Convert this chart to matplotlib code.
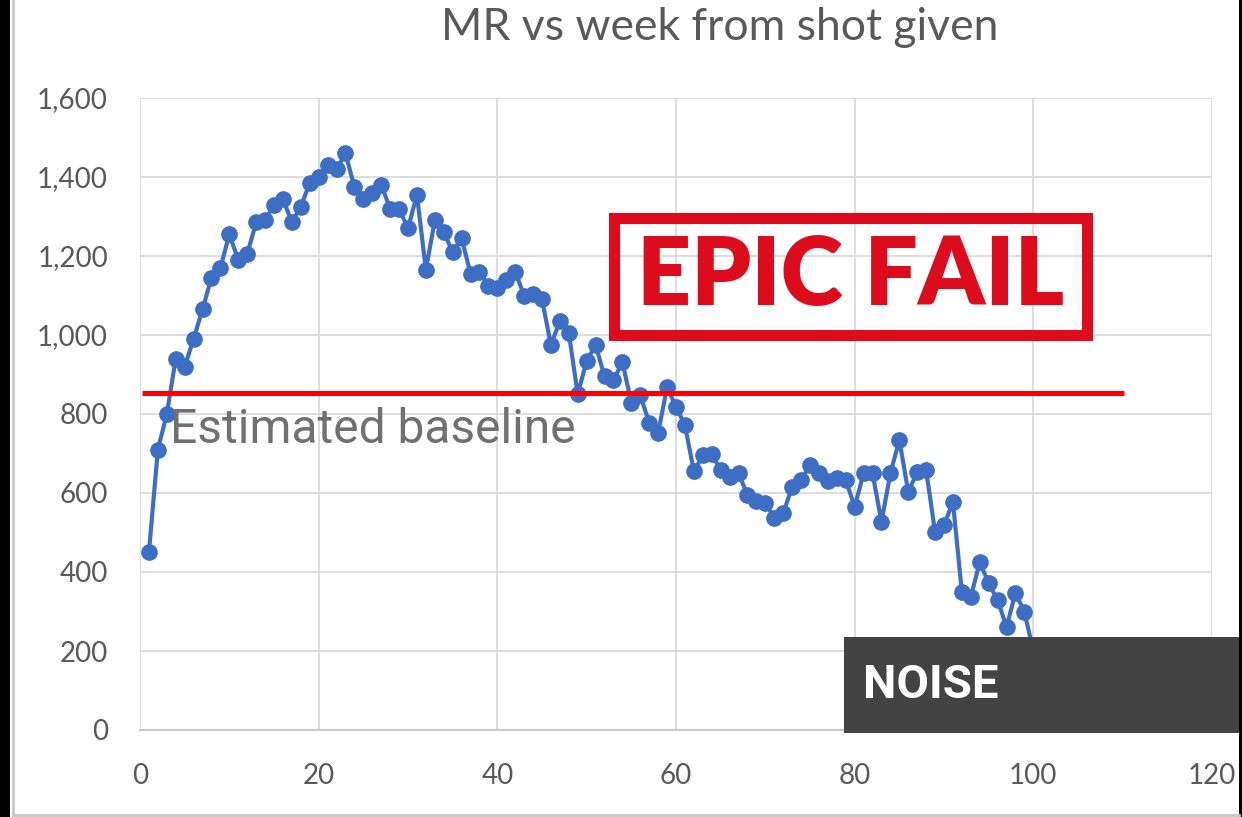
import matplotlib
matplotlib.use("Agg")
import matplotlib.pyplot as plt
from matplotlib.patches import Rectangle
from matplotlib.lines import Line2D
from matplotlib.ticker import FuncFormatter

# week since shot, MR value
weeks = list(range(1, 101))
mr = [450, 710, 800, 940, 920, 990, 1065, 1145, 1170, 1255,
      1190, 1205, 1285, 1290, 1330, 1345, 1285, 1325, 1385, 1400,
      1430, 1420, 1460, 1375, 1345, 1360, 1380, 1320, 1320, 1270,
      1355, 1165, 1290, 1260, 1210, 1245, 1155, 1160, 1125, 1120,
      1140, 1160, 1100, 1105, 1090, 975, 1035, 1005, 850, 935,
      975, 895, 885, 932, 828, 848, 777, 752, 868, 818,
      772, 655, 695, 698, 658, 640, 650, 595, 580, 575,
      537, 549, 615, 633, 670, 650, 630, 638, 633, 565,
      650, 650, 527, 650, 734, 603, 653, 658, 501, 519,
      577, 349, 337, 425, 372, 329, 261, 347, 299, 200]

baseline = 853
baseline_span = [0.2, 110.2]
x_ticks = [0, 20, 40, 60, 80, 100, 120]
y_ticks = [0, 200, 400, 600, 800, 1000, 1200, 1400, 1600]

W, H = 1242, 817


def fx(px):
    return px / W


def fy(py):
    return 1 - py / H


calib = ["Lato", "DejaVu Sans"]
grey_txt = "#595959"

fig = plt.figure(figsize=(W / 100, H / 100), dpi=100)
fig.patch.set_facecolor("white")

ax = fig.add_axes([fx(140), fy(730), (1212 - 140) / W, (730 - 98) / H])
ax.set_xlim(0, 120)
ax.set_ylim(0, 1600)
ax.set_xticks(x_ticks)
ax.set_yticks(y_ticks)
ax.yaxis.set_major_formatter(FuncFormatter(lambda v, p: f"{v:,.0f}"))
for s in ["top", "right", "left"]:
    ax.spines[s].set_visible(False)
ax.spines["bottom"].set_color("#c8c8c8")
ax.spines["bottom"].set_linewidth(1.5)
ax.grid(True, color="#dadada", linewidth=1.3)
ax.set_axisbelow(True)
ax.tick_params(length=0, labelsize=20, labelcolor=grey_txt)
ax.tick_params(axis="x", pad=24)
ax.tick_params(axis="y", pad=23)
for lab in ax.get_xticklabels() + ax.get_yticklabels():
    lab.set_family(calib)

# data line
ax.plot(weeks, mr, color="#3d6ec4", linewidth=3, marker="o", markersize=11,
        clip_on=False, zorder=3)

# baseline
ax.plot(baseline_span, [baseline, baseline], color="#ff0000", linewidth=3.6,
        solid_capstyle="butt", zorder=5)

# title
fig.text(fx(720), fy(27), "MR vs week from shot given", ha="center", va="center",
         fontsize=32, color=grey_txt, family=calib)

fig.text(fx(170), fy(443), "Estimated baseline", ha="left", va="baseline",
         fontsize=34.5, color="#707070", family=["Roboto", "DejaVu Sans"], zorder=6)

# EPIC FAIL stamp
red = "#dc0c1c"
fig.add_artist(Rectangle((fx(614), fy(335)), fx(1087) - fx(614), fy(217.5) - fy(335),
                         transform=fig.transFigure, fill=False, edgecolor=red,
                         linewidth=8, zorder=7))
fig.text(fx(851), fy(277), "EPIC FAIL", ha="center", va="center", fontsize=68,
         fontweight="heavy", color=red, family=["Lato", "DejaVu Sans"], zorder=8)

# NOISE box
fig.add_artist(Rectangle((fx(844), fy(733)), fx(1242) - fx(844), fy(637) - fy(733),
                         transform=fig.transFigure, facecolor="#434343",
                         edgecolor="none", zorder=9))
fig.text(fx(863), fy(685), "NOISE", ha="left", va="center", fontsize=34,
         fontweight="bold", color="white", family=["Roboto", "DejaVu Sans"], zorder=10)

# frame of the screenshot
fig.add_artist(Rectangle((0, 0), fx(10), 1, transform=fig.transFigure,
                         facecolor="black", edgecolor="none", zorder=11))
fig.add_artist(Rectangle((fx(1239), 0), fx(3), 1, transform=fig.transFigure,
                         facecolor="black", edgecolor="none", zorder=11))
fig.add_artist(Line2D([fx(13), fx(13)], [fy(815), 1], transform=fig.transFigure,
                      color="#c8c8c8", linewidth=2, zorder=11))
fig.add_artist(Line2D([fx(13), fx(1239)], [fy(815), fy(815)], transform=fig.transFigure,
                      color="#c8c8c8", linewidth=2, zorder=11))

fig.savefig("out.png", dpi=100)
